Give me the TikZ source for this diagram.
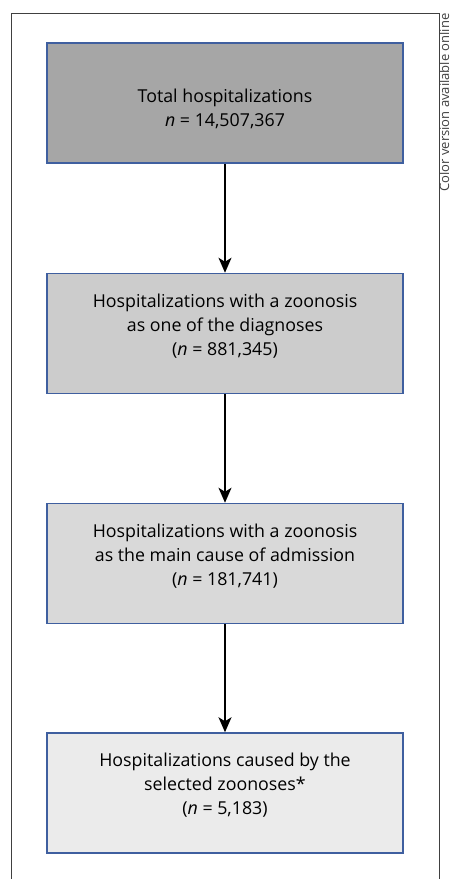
\documentclass[tikz,border=0pt]{standalone}
\usepackage{fontspec}
\setmainfont{Open Sans}
\usetikzlibrary{arrows.meta}

\definecolor{boxline}{HTML}{3F5F9F}
\definecolor{frameline}{HTML}{404040}

\tikzset{
    stagebox/.style={draw=boxline, line width=1.5pt, fill=#1, align=center,
        minimum width=356pt, minimum height=120pt, inner sep=0pt,
        font=\fontsize{17.8pt}{24pt}\selectfont},
    flow/.style={line width=1.6pt, -{Stealth[length=15pt, width=13pt, inset=4pt]}}
}

\begin{document}
\begin{tikzpicture}[x=1pt, y=-1pt]
                \useasboundingbox (0,0) rectangle (452,879);
                \draw[frameline, line width=1pt] (11,879) -- (11,13.5) -- (439,13.5) -- (439,879);
                \node[rotate=90, anchor=base east, text=frameline, font=\fontsize{13pt}{15pt}\selectfont] (avail) at (449,10) {Color version available online};

                \node[stagebox=black!35] (tot) at (225,103) {\rule{0pt}{26pt}Total hospitalizations\\\textit{n} = 14,507,367};
                \node[stagebox=black!20, text depth=18pt] (diag) at (225,333.5) {Hospitalizations with a zoonosis\\as one of the diagnoses\\(\textit{n} = 881,345)};
                \node[stagebox=black!15, text depth=18pt] (main) at (225,563.5) {Hospitalizations with a zoonosis\\as the main cause of admission\\(\textit{n} = 181,741)};
                \node[stagebox=black!8, text depth=18pt] (sel) at (225,793) {Hospitalizations caused by the\\selected zoonoses*\\(\textit{n} = 5,183)};
                \draw[flow]
                    (tot) edge (diag)
                    (diag) edge (main)
                    (main) edge (sel)
                    ;
            \end{tikzpicture}
\end{document}
